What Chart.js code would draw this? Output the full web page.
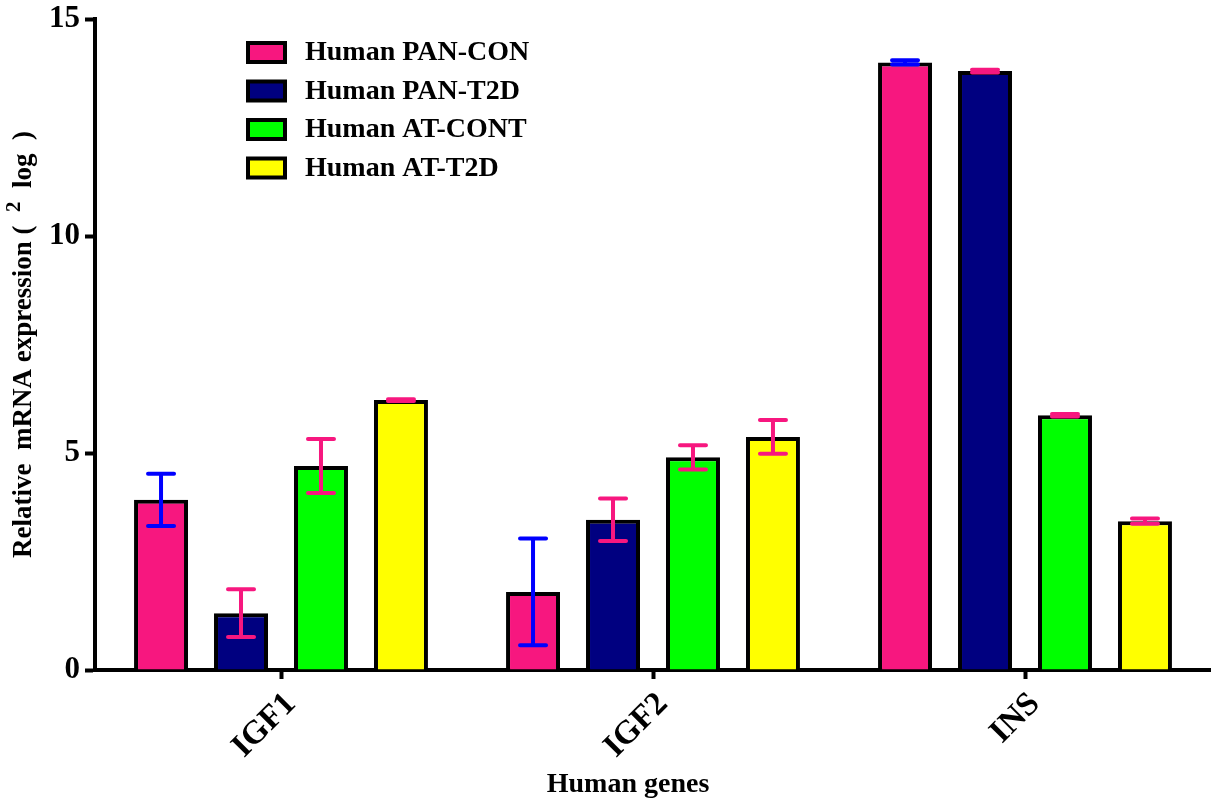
<!DOCTYPE html>
<html>
<head>
<meta charset="utf-8">
<script src="https://cdn.jsdelivr.net/npm/chart.js@4.4.0/dist/chart.umd.min.js"></script>
<style>
  html, body { margin: 0; padding: 0; background: #fff; }
  #wrap { width: 1211px; height: 802px; }
</style>
</head>
<body>
<div id="wrap"><canvas id="myChart" width="1211" height="802"></canvas></div>
<script>
'use strict'

let genes = ['IGF1', 'IGF2', 'INS'];

let seriesNames = ['Human PAN-CON', 'Human PAN-T2D', 'Human AT-CONT', 'Human AT-T2D'];
let seriesColors = ['#f7177f', '#000080', '#00ff00', '#ffff00'];
let errorColors = ['#0000ff', '#f7177f', '#f7177f', '#f7177f'];

let panCon = [3.92, 1.8, 14.0];
let panT2d = [1.31, 3.46, 13.8];
let atCont = [4.7, 4.9, 5.87];
let atT2d = [6.22, 5.37, 3.43];

let panConErr = [0.6, 1.23, 0.05];
let panT2dErr = [0.55, 0.49, 0.03];
let atContErr = [0.62, 0.28, 0.03];
let atT2dErr = [0.02, 0.39, 0.06];

let yTicks = [0, 5, 10, 15];

let allValues = [panCon, panT2d, atCont, atT2d];
let allErrors = [panConErr, panT2dErr, atContErr, atT2dErr];

let fontFamily = '"Liberation Serif", "Times New Roman", serif';

let datasets = [];
for (let i = 0; i < seriesNames.length; i++) {
  datasets.push({
    label: seriesNames[i],
    data: allValues[i],
    errors: allErrors[i],
    errorColor: errorColors[i],
    backgroundColor: seriesColors[i],
    borderColor: '#000',
    borderWidth: 4,
    borderSkipped: 'bottom',
    barPercentage: 0.675,
    categoryPercentage: 0.86
  });
}

// error bars drawn on top of each bar
let errorBars = {
  id: 'errorBars',
  afterDatasetsDraw(chart) {
    let ctx = chart.ctx;
    let yScale = chart.scales.y;
    chart.data.datasets.forEach((ds, i) => {
      let meta = chart.getDatasetMeta(i);
      meta.data.forEach((bar, j) => {
        let v = ds.data[j];
        let e = ds.errors[j];
        let top = yScale.getPixelForValue(v + e);
        let bottom = yScale.getPixelForValue(v - e);
        ctx.save();
        ctx.strokeStyle = ds.errorColor;
        ctx.lineWidth = 4;
        ctx.lineCap = 'round';
        ctx.beginPath();
        ctx.moveTo(bar.x, top);
        ctx.lineTo(bar.x, bottom);
        ctx.moveTo(bar.x - 13, top);
        ctx.lineTo(bar.x + 13, top);
        ctx.moveTo(bar.x - 13, bottom);
        ctx.lineTo(bar.x + 13, bottom);
        ctx.stroke();
        ctx.restore();
      });
    });
  }
};

// legend inside the plot + both axis titles (the y one has a raised 2)
let extras = {
  id: 'extras',
  afterDraw(chart) {
    let ctx = chart.ctx;
    let area = chart.chartArea;
    ctx.save();
    chart.data.datasets.forEach((ds, i) => {
      let y = 43 + i * 38.5;
      ctx.fillStyle = ds.backgroundColor;
      ctx.fillRect(248, y, 37, 19);
      ctx.strokeStyle = '#000';
      ctx.lineWidth = 4;
      ctx.strokeRect(248, y, 37, 19);
      ctx.fillStyle = '#000';
      ctx.font = 'bold 28px ' + fontFamily;
      ctx.textBaseline = 'middle';
      ctx.textAlign = 'left';
      ctx.fillText(ds.label, 305, y + 10);
    });

    // x title
    ctx.font = 'bold 28px ' + fontFamily;
    ctx.textAlign = 'center';
    ctx.textBaseline = 'middle';
    ctx.fillText('Human genes', 628, 785);

    // y title, rotated
    let partA = 'Relative  mRNA expression (  ';
    let partB = '2';
    let partC = '  log  )';
    let big = 'bold 27px ' + fontFamily;
    let small = 'bold 21px ' + fontFamily;
    ctx.font = big;
    let wA = ctx.measureText(partA).width;
    let wC = ctx.measureText(partC).width;
    ctx.font = small;
    let wB = ctx.measureText(partB).width;
    let total = wA + wB + wC;
    ctx.translate(24, (area.top + area.bottom) / 2);
    ctx.rotate(-Math.PI / 2);
    ctx.textAlign = 'left';
    ctx.textBaseline = 'middle';
    let x0 = -total / 2;
    ctx.font = big;
    ctx.fillText(partA, x0, 0);
    ctx.font = small;
    ctx.fillText(partB, x0 + wA, -9);
    ctx.font = big;
    ctx.fillText(partC, x0 + wA + wB, 0);
    ctx.restore();
  }
};

let ctx = document.getElementById('myChart').getContext('2d');
let chart = new Chart(ctx, {
  type: 'bar',
  data: {
    labels: genes,
    datasets: datasets
  },
  plugins: [errorBars, extras],
  options: {
    responsive: false,
    animation: false,
    layout: { padding: { top: 19, right: 0, left: 0, bottom: 0 } },
    plugins: {
      legend: { display: false },
      tooltip: { enabled: false }
    },
    scales: {
      x: {
        afterFit(scale) { scale.height = 132; },
        grid: {
          offset: false,
          drawOnChartArea: false,
          drawTicks: true,
          tickLength: 9,
          tickWidth: 4,
          tickColor: '#000'
        },
        border: { display: true, color: '#000', width: 4 },
        ticks: {
          color: '#000',
          maxRotation: 45,
          minRotation: 45,
          padding: 6,
          labelOffset: 10,
          font: { family: fontFamily, size: 33, weight: 'bold' }
        }
      },
      y: {
        min: 0,
        max: 15,
        afterFit(scale) {
          scale.width = 95;
          scale.paddingTop = 0;
          scale.paddingBottom = 0;
        },
        afterBuildTicks(scale) {
          scale.ticks = yTicks.map(v => ({ value: v }));
        },
        grid: {
          drawOnChartArea: false,
          drawTicks: true,
          tickLength: 10,
          tickWidth: 4,
          tickColor: '#000'
        },
        border: { display: true, color: '#000', width: 4 },
        ticks: {
          color: '#000',
          padding: 5,
          font: { family: fontFamily, size: 31, weight: 'bold' }
        }
      }
    }
  }
});
</script>
</body>
</html>
